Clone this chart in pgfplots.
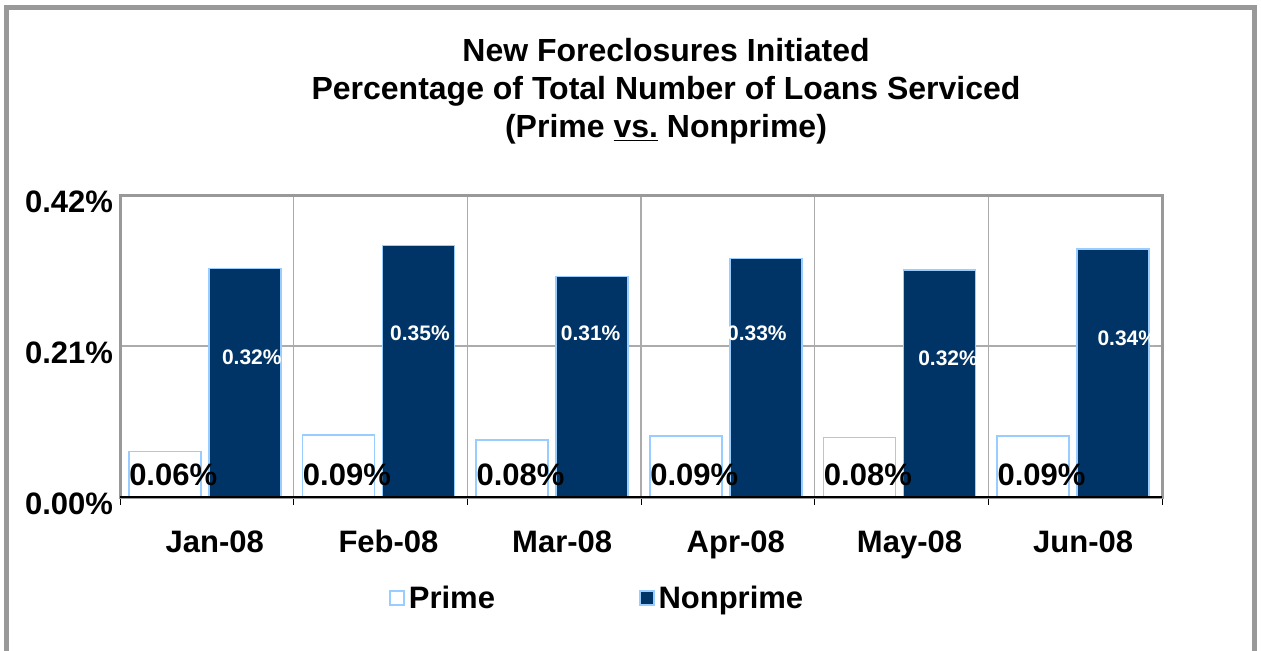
\documentclass[border=0pt]{standalone}
\usepackage{pgfplots}
\pgfplotsset{compat=1.18}
\usepackage{fontspec}
\setmainfont{Liberation Sans}
\definecolor{framec}{HTML}{999999}
\definecolor{navy}{HTML}{003366}
\definecolor{lblue}{HTML}{99CCFF}
\definecolor{gridc}{HTML}{ABABAB}
\newcommand\bigf{\bfseries\fontsize{15.5}{18}\selectfont}
\newcommand\smallf{\bfseries\fontsize{10.5}{12}\selectfont}
\begin{document}
\begin{tikzpicture}
\useasboundingbox (0,0) rectangle (630.5pt,-325pt);
\draw[framec, line width=2.5pt] (3.25pt,-330pt) -- (3.25pt,-3.75pt) -- (627.25pt,-3.75pt) -- (627.25pt,-330pt);
\node[font=\bfseries\fontsize{16}{19}\selectfont, align=center] at (333pt,-45.5pt)
  {New Foreclosures Initiated\\Percentage of Total Number of Loans Serviced\\(Prime \underline{vs.} Nonprime)};
\begin{axis}[
  at={(60pt,-248.5pt)}, anchor=south west,
  scale only axis, width=521pt, height=151pt,
  xmin=-0.5, xmax=5.5, ymin=0, ymax=0.42,
  xtick={-0.5,0.5,...,5.5}, xticklabel=\empty, xtick pos=bottom,
  xmajorgrids, tick align=outside, major tick length=4pt,
  x tick style={black, line width=0.5pt},
  extra x ticks={0,1,2,3,4,5},
  extra x tick labels={Jan-08,Feb-08,Mar-08,Apr-08,May-08,Jun-08},
  extra x tick style={major tick length=0pt, grid=none,
     xticklabel style={anchor=base, yshift=-27.5pt, xshift=4pt}},
  ytick={0,0.21,0.42}, yticklabels={0.00\%,0.21\%,0.42\%},
  ymajorgrids, y tick style={draw=none},
  yticklabel style={yshift=-3.5pt, xshift=4pt},
  grid style={gridc, line width=0.6pt},
  axis line style={framec, line width=1.5pt},
  tick label style={font=\bigf},
  legend style={at={(0.459,-0.336)}, anchor=center, draw=none, fill=none,
     font=\bigf, legend columns=2,
     /tikz/every even column/.append style={column sep=70pt}},
  legend cell align=left,
]
\addplot[ybar, bar width=36pt, bar shift=-21pt, fill=white, draw=lblue, line width=0.75pt,
  legend image code/.code={\draw[fill=white, draw=lblue, line width=0.75pt] (-3pt,-3.25pt) rectangle (4pt,3.75pt);}]
  coordinates {(0,0.063) (1,0.086) (2,0.079) (3,0.085) (4,0.083) (5,0.085)};
\addlegendentry{Prime}
\addplot[ybar, bar width=36pt, bar shift=19pt, fill=navy, draw=lblue, line width=0.75pt,
  legend image code/.code={\draw[fill=navy, draw=lblue, line width=0.75pt] (-3pt,-3.25pt) rectangle (4pt,3.75pt);}]
  coordinates {(0,0.318) (1,0.350) (2,0.307) (3,0.332) (4,0.316) (5,0.345)};
\addlegendentry{Nonprime}
\addplot[forget plot, draw=none, mark=none, point meta=explicit symbolic, nodes near coords,
  nodes near coords style={anchor=west, inner sep=0pt, font=\bigf, text=black}]
  coordinates {(-0.449,0.0306) [0.06\%] (0.551,0.0306) [0.09\%] (1.551,0.0306) [0.08\%]
               (2.551,0.0306) [0.09\%] (3.551,0.0306) [0.08\%] (4.551,0.0306) [0.09\%]};
\addplot[forget plot, draw=none, mark=none, point meta=explicit symbolic, nodes near coords,
  nodes near coords style={anchor=center, inner sep=0pt, font=\smallf, text=white}]
  coordinates {(0.259,0.195) [0.32\%] (1.227,0.228) [0.35\%] (2.21,0.228) [0.31\%]
               (3.167,0.228) [0.33\%] (4.268,0.193) [0.32\%] (5.30,0.221) [0.34\%]};
\draw[black, line width=0.75pt] (rel axis cs:0,0) -- (rel axis cs:1,0);
\end{axis}
\end{tikzpicture}
\end{document}
